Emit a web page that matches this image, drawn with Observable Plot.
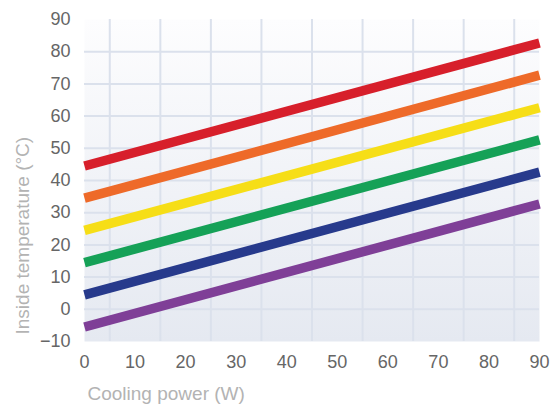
<!DOCTYPE html>
<html>
<head>
<meta charset="utf-8">
<script src="https://cdn.jsdelivr.net/npm/d3@7"></script>
<script src="https://cdn.jsdelivr.net/npm/@observablehq/plot@0.6"></script>
<style>
  html, body { margin: 0; padding: 0; background: #ffffff; }
  #chart svg { display: block; }
</style>
</head>
<body>
<div id="chart"></div>
<script>
// Data
const power = [0, 90];
const seriesNames = ["Series A", "Series B", "Series C", "Series D", "Series E", "Series F"];
const seriesColors = ["#d71f2b", "#ee6a29", "#f6de17", "#15a157", "#273a8c", "#7f3f97"];
const startTemps = [44.5, 34.5, 24.5, 14.5, 4.5, -5.5];
const endTemps = [82.7, 72.7, 62.6, 52.6, 42.6, 32.7];
const xTicks = [0, 10, 20, 30, 40, 50, 60, 70, 80, 90];
const yTicks = [-10, 0, 10, 20, 30, 40, 50, 60, 70, 80, 90];
const xGrid = [5, 15, 25, 35, 45, 55, 65, 75, 85];
const yGrid = [0, 10, 20, 30, 40, 50, 60, 70, 80];
const xTitle = "Cooling power (W)";
const yTitle = "Inside temperature (°C)";

const rows = [];
seriesNames.forEach((name, i) => {
  rows.push({series: name, x: power[0], y: startTemps[i]});
  rows.push({series: name, x: power[1], y: endTemps[i]});
});

const defs = () => {
  const d = d3.create("svg:defs");
  const g = d.append("linearGradient").attr("id", "bgGrad")
    .attr("x1", 0).attr("y1", 0).attr("x2", 0).attr("y2", 1);
  g.append("stop").attr("offset", "0%").attr("stop-color", "#fdfdfe");
  g.append("stop").attr("offset", "100%").attr("stop-color", "#e5e9f1");
  return d.node();
};

const chart = Plot.plot({
  width: 553,
  height: 405,
  marginTop: 19,
  marginLeft: 84,
  marginRight: 14,
  marginBottom: 64,
  style: {fontFamily: "'Liberation Sans', Arial, sans-serif", background: "#ffffff"},
  x: {domain: [0, 90]},
  y: {domain: [-10, 90]},
  color: {type: "ordinal", domain: seriesNames, range: seriesColors},
  marks: [
    defs,
    Plot.frame({fill: "url(#bgGrad)", stroke: null}),
    Plot.ruleX(xGrid, {stroke: "#dbe1ec", strokeWidth: 2}),
    Plot.ruleY(yGrid, {stroke: "#dbe1ec", strokeWidth: 2}),
    Plot.line(rows, {x: "x", y: "y", z: "series", stroke: "series", strokeWidth: 9.5, strokeLinecap: "butt"}),
    Plot.axisY(yTicks, {tickSize: 0, tickPadding: 14, fontSize: 18, fill: "#666666", label: null}),
    Plot.axisX(xTicks, {tickSize: 0, tickPadding: 14, fontSize: 18, fill: "#666666", label: null}),
    Plot.text([xTitle], {frameAnchor: "bottom-left", textAnchor: "start", dx: 3, dy: 58, fontSize: 19, fill: "#b3b3b3"}),
    Plot.text([yTitle], {frameAnchor: "bottom-left", textAnchor: "start", rotate: -90, dx: -56, dy: -7, fontSize: 19, fill: "#b3b3b3"})
  ]
});
document.getElementById("chart").appendChild(chart);
</script>
</body>
</html>
